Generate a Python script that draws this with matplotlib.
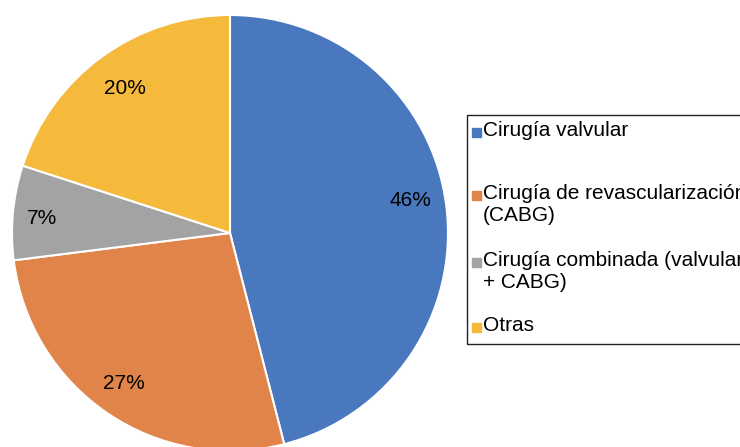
import matplotlib.pyplot as plt
from matplotlib.patches import Rectangle
import numpy as np

plt.rcParams["font.family"] = ["Liberation Sans", "DejaVu Sans"]

# Data
labels = ["Cirugía valvular", "Cirugía de revascularización\n(CABG)",
          "Cirugía combinada (valvular\n+ CABG)", "Otras"]
values = [46, 27, 7, 20]
colors = ["#4A78BE", "#E0844A", "#A3A3A3", "#F5B93C"]

W, H = 740, 447
fig = plt.figure(figsize=(W / 100, H / 100), dpi=100)

# Pie axes: centre (230, 233) px, radius 218 px
cx, cy, r = 230, 233, 218
ax = fig.add_axes([(cx - r) / W, (H - cy - r) / H, 2 * r / W, 2 * r / H])
wedges, texts, autotexts = ax.pie(
    values, colors=colors, startangle=90, counterclock=False,
    autopct="%d%%", pctdistance=0.82, radius=1,
    wedgeprops=dict(edgecolor="white", linewidth=1.5),
    textprops=dict(fontsize=15, color="black"))

# label placement differs a little per slice in the reference
label_dist = [0.84, 0.845, 0.865, 0.82]
label_shift = [3, -1, 1, 0]  # degrees
for w, t, d, s in zip(wedges, autotexts, label_dist, label_shift):
    ang = np.deg2rad((w.theta1 + w.theta2) / 2 + s)
    t.set_position((d * np.cos(ang), d * np.sin(ang)))

ax.set_xlim(-1, 1)
ax.set_ylim(-1, 1)
ax.set_aspect("equal")
ax.axis("off")

# Legend drawn by hand (it runs past the right edge in the reference)
def fx(x):
    return x / W

def fy(y):
    return 1 - y / H

box_left, box_top, box_bottom = 467, 115, 344
fig.patches.append(Rectangle((fx(box_left), fy(box_bottom)), fx(400),
                             (box_bottom - box_top) / H, transform=fig.transFigure,
                             fill=False, edgecolor="#222222", linewidth=1.0))

entry_y = [132, 195, 262, 327]  # centre of first line of each entry
for lab, col, y in zip(labels, colors, entry_y):
    fig.patches.append(Rectangle((fx(472), fy(y + 5)), fx(9), 9 / H,
                                 transform=fig.transFigure, color=col))
    fig.text(fx(483), fy(y - 11), lab, fontsize=15, va="top", ha="left",
             linespacing=1.22)

plt.savefig("out.png", dpi=100)
